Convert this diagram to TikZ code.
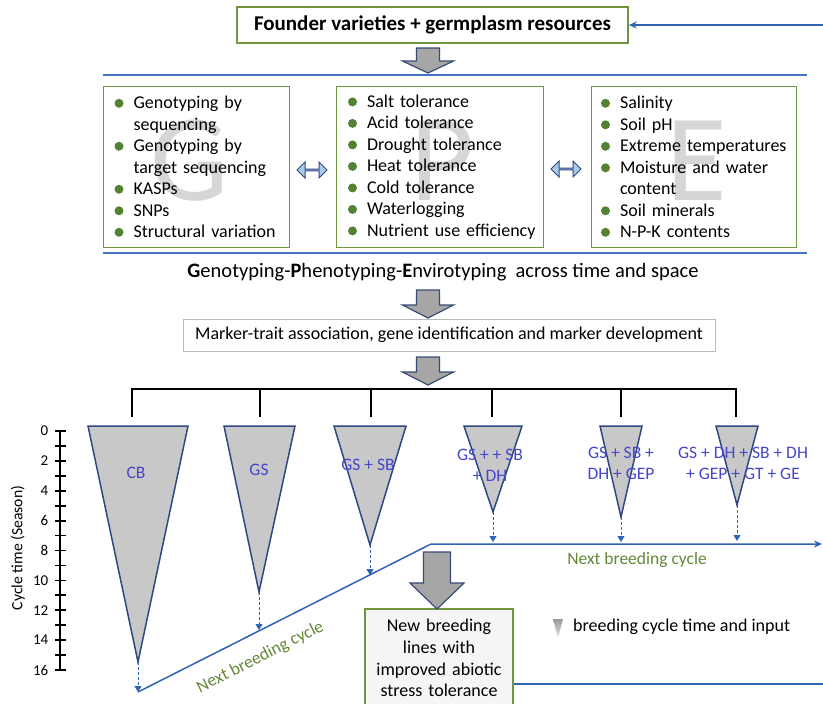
\documentclass[tikz,border=0pt]{standalone}
\usepackage{fontspec}
\setmainfont{Carlito}
\usepackage{tikz}
\usetikzlibrary{shapes.arrows, arrows.meta, positioning, calc}

\definecolor{boxgreen}{RGB}{112, 148, 64}
\definecolor{bulletgreen}{RGB}{84, 130, 53}
\definecolor{lineblue}{RGB}{68, 114, 196}
\definecolor{cycleblue}{RGB}{47, 100, 180}
\definecolor{triedge}{RGB}{47, 72, 130}
\definecolor{trigray}{RGB}{200, 200, 200}
\definecolor{labelblue}{RGB}{70, 70, 205}
\definecolor{cyclegreen}{RGB}{100, 135, 55}
\definecolor{arrowgray}{RGB}{166, 166, 166}
\definecolor{arrowedge}{RGB}{55, 75, 115}
\definecolor{lettergray}{RGB}{214, 214, 214}
\definecolor{dblblue}{RGB}{170, 200, 232}

\tikzset{
  foundbox/.style={draw=boxgreen, line width=1.6pt, fill=white, minimum width=391pt, minimum height=36pt, font=\fontsize{21}{25}\selectfont\bfseries},
  listbox/.style={draw=boxgreen, line width=1pt, minimum height=161pt, anchor=north west, align=left, inner ysep=0pt, font=\fontsize{18}{21.5}\selectfont},
  bigletter/.style={anchor=base, text=lettergray, inner sep=0pt, font=\fontsize{124}{124}\selectfont},
  sepline/.style={draw=lineblue, line width=2.4pt},
  cycleline/.style={draw=cycleblue, line width=1.5pt},
  blockarrow/.style={draw=arrowedge, fill=arrowgray, line width=1.2pt, line join=miter},
  % down arrow: half shaft, half head, shaft length, total length
  pics/downarrow/.style n args={4}{code={
    \draw[blockarrow] (-#1,0) -- (#1,0) -- (#1,#3) -- (#2,#3) -- (0,#4) -- (-#2,#3) -- (-#1,#3) -- cycle;
    \coordinate (-tip) at (0,#4);
  }},
  dblarrow/.style={double arrow, draw=triedge, fill=dblblue, line width=1pt, inner sep=0pt, minimum height=30pt, minimum width=16pt, double arrow head extend=4pt},
  bracket/.style={draw=black, line width=1.5pt},
  tribox/.style={draw=triedge, fill=trigray, line width=1.5pt, line join=miter},
  trilabel/.style={text=labelblue, align=center, inner sep=0pt, font=\fontsize{17.5}{21}\selectfont},
  droparrow/.style={draw=cycleblue, line width=1pt, dash pattern=on 3pt off 2pt, -{Triangle[length=6pt, width=7pt]}},
  cyclelabel/.style={text=cyclegreen, inner sep=0pt, font=\fontsize{17.5}{21}\selectfont},
  axisline/.style={draw=black, line width=1.8pt}
}

% bullet item and continued line, kept on one line each
\newcommand{\gbul}[1]{\mbox{\makebox[19pt][l]{\tikz[baseline=-0.3em]\fill[bulletgreen] (0,0) circle (4.5pt);}#1}}
\newcommand{\gind}[1]{\mbox{\hspace*{19pt}#1}}

\begin{document}
\begin{tikzpicture}[x=1pt, y=-1pt]
  \useasboundingbox (0,0) rectangle (823,704);

  % Founder material
  \node[foundbox] (founder) at (432.5,25) {Founder varieties + germplasm resources};
  \coordinate (loopin) at (823,25);
  \draw[cycleline, -{Stealth[length=8pt, width=7pt]}] (loopin) -- (founder);
  \pic (arrA) at (428,48) {downarrow={11.5}{25.5}{13}{25}};
  \draw[sepline] (103,75) -- (807,75);

  % G / P / E background letters
  \node[bigletter] (gletter) at (190,200) {G};
  \node[bigletter] (pletter) at (443,200) {P};
  \node[bigletter] (eletter) at (697,200) {E};

  % Genotyping
  \node[listbox, text width=164pt, inner xsep=11pt] (gbox) at (103,86) {
    \gbul{Genotyping by}\\\gind{sequencing}\\
    \gbul{Genotyping by}\\\gind{target sequencing}\\
    \gbul{KASPs}\\
    \gbul{SNPs}\\
    \gbul{Structural variation}};

  % Phenotyping
  \node[listbox, text width=184pt, inner xsep=11.5pt] (pbox) at (336,86) {
    \gbul{Salt tolerance}\\
    \gbul{Acid tolerance}\\
    \gbul{Drought tolerance}\\
    \gbul{Heat tolerance}\\
    \gbul{Cold tolerance}\\
    \gbul{Waterlogging}\\
    \gbul{Nutrient use efficiency}};

  % Envirotyping
  \node[listbox, text width=186pt, inner xsep=9.5pt] (ebox) at (591,86) {
    \gbul{Salinity}\\
    \gbul{Soil pH}\\
    \gbul{Extreme temperatures}\\
    \gbul{Moisture and water}\\\gind{content}\\
    \gbul{Soil minerals}\\
    \gbul{N-P-K contents}};

  \node[dblarrow] (gp) at (312,170) {};
  \node[dblarrow] (pe) at (566,169) {};
  \draw[sepline] (103,253) -- (807,253);

  % Marker development
  \node[font=\fontsize{20.5}{24}\selectfont, inner sep=0pt] (gpe) at (443,272) {\textbf{G}enotyping-\textbf{P}henotyping-\textbf{E}nvirotyping\ \ across time and space};
  \pic (arrB) at (428,290) {downarrow={11.5}{25.5}{15}{28}};
  \node[draw=gray!55, line width=1pt, minimum width=532pt, minimum height=32pt, font=\fontsize{18}{21}\selectfont] (marker) at (449,335) {Marker-trait association, gene identification and marker development};
  \pic (arrC) at (428,357) {downarrow={11.5}{25.5}{15}{28}};

  % Bracket to the six schemes
  \coordinate (cbtop) at (132,417);
  \coordinate (gstop) at (260,417);
  \coordinate (sbtop) at (371,417);
  \coordinate (dhtop) at (492,417);
  \coordinate (geptop) at (621,417);
  \coordinate (gttop) at (736,417);
  \draw[bracket] (cbtop) -- ++(0,-28) -| (gttop);
  \draw[bracket] (gstop) -- ++(0,-28);
  \draw[bracket] (sbtop) -- ++(0,-28);
  \draw[bracket] (dhtop) -- ++(0,-28);
  \draw[bracket] (geptop) -- ++(0,-28);

  % Cycle time axis
  \draw[axisline] (60,431) -- (60,670);
  \foreach \k in {0,...,16}
    \draw[axisline] (55,{431+14.94*\k}) -- (66,{431+14.94*\k});
  \foreach \k in {0,2,...,16}
    \node[anchor=east, inner sep=0pt, font=\fontsize{15}{18}\selectfont] (tick\k) at (48.5,{431+14.94*\k}) {\k};
  \node[rotate=90, font=\fontsize{15.7}{19}\selectfont] (axtitle) at (18,548) {Cycle time (Season)};

  % Breeding cycle line
  \coordinate (cbend) at (138,692);
  \coordinate (bend) at (431,544);
  \coordinate (loopout) at (822,544);
  \draw[cycleline, -{Stealth[length=8pt, width=7pt]}] (cbend) -- node[cyclelabel, sloped, below=16pt, pos=0.38] (nextdiag) {Next breeding cycle} (bend) -- (loopout);
  \node[cyclelabel] (nextflat) at (637,560) {Next breeding cycle};

  % CB
  \coordinate (cbtip) at (138,662);
  \draw[tribox] (88,426) -- (188,426) -- (cbtip) -- cycle;
  \node[trilabel] (cblab) at (136,473) {CB};
  \draw[droparrow] (cbtip) -- (cbend);

  % GS
  \coordinate (gstip) at (259,592);
  \coordinate (gsend) at (259,630);
  \draw[tribox] (224,426) -- (295,426) -- (gstip) -- cycle;
  \node[trilabel] (gslab) at (259,470) {GS};
  \draw[droparrow] (gstip) -- (gsend);

  % GS + SB
  \coordinate (sbtip) at (370,545);
  \coordinate (sbend) at (370,575);
  \draw[tribox] (334,426) -- (406,426) -- (sbtip) -- cycle;
  \node[trilabel] (sblab) at (368,465) {GS + SB};
  \draw[droparrow] (sbtip) -- (sbend);

  % GS + SB + DH
  \coordinate (dhtip) at (493,512);
  \coordinate (dhend) at (493,542);
  \draw[tribox] (464,426) -- (522,426) -- (dhtip) -- cycle;
  \node[trilabel] (dhlab) at (490,465) {GS + + SB\\+ DH};
  \draw[droparrow] (dhtip) -- (dhend);

  % GS + SB + DH + GEP
  \coordinate (geptip) at (621,517);
  \coordinate (gepend) at (621,542);
  \draw[tribox] (600,426) -- (642,426) -- (geptip) -- cycle;
  \node[trilabel] (geplab) at (621,463) {GS + SB +\\DH + GEP};
  \draw[droparrow] (geptip) -- (gepend);

  % all tools
  \coordinate (gttip) at (737,505);
  \coordinate (gtend) at (737,541);
  \draw[tribox] (716,426) -- (758,426) -- (gttip) -- cycle;
  \node[trilabel] (gtlab) at (743,463) {GS + DH + SB + DH\\+ GEP + GT + GE};
  \draw[droparrow] (gttip) -- (gtend);

  % New lines
  \node[draw=boxgreen, line width=1.6pt, fill=gray!8, text width=140pt, inner xsep=4pt, minimum height=98pt, align=center, font=\fontsize{18}{21.7}\selectfont] (newlines) at (439,658) {New breeding\\lines with\\improved abiotic\\stress tolerance};
  \pic (arrD) at (437,552) {downarrow={13.5}{27}{31}{57}};
  \coordinate (loopout2) at (823,684);
  \draw[cycleline] (newlines.east |- loopout2) -- (loopout2);

  % Legend
  \shade[top color=gray!80, bottom color=gray!20] (553,619) -- (563,619) -- (558,638) -- cycle;
  \node[anchor=west, inner sep=0pt, font=\fontsize{18}{21.6}\selectfont] (legend) at (573,627) {breeding cycle time and input};
\end{tikzpicture}
\end{document}
